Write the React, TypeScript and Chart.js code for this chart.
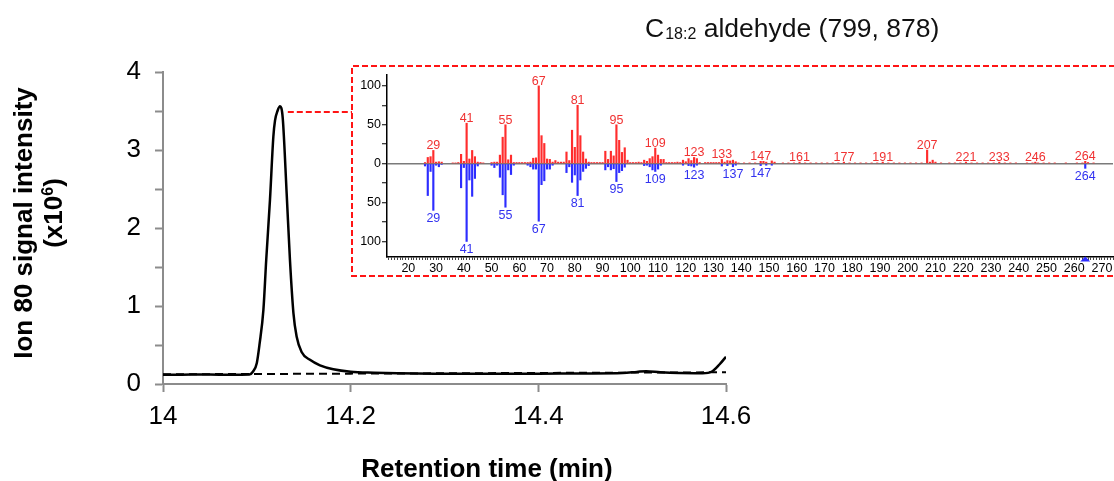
import React, { useEffect, useRef } from 'react';
import { Chart, registerables } from 'chart.js';

Chart.register(...registerables);

const FONT = '"Liberation Sans", Arial, Helvetica, sans-serif';
const W = 1114;
const H = 481;

// ---------- Chromatogram (ion 80) ----------
const RT_SOLID = [14.0, 14.02, 14.04, 14.06, 14.08, 14.092, 14.096, 14.1, 14.103, 14.107, 14.11, 14.114, 14.1176, 14.1194, 14.122, 14.1247, 14.1276, 14.1318, 14.1353, 14.139, 14.1424, 14.1477, 14.1566, 14.1673, 14.1815, 14.2, 14.225, 14.25, 14.3, 14.35, 14.4, 14.45, 14.49, 14.505, 14.515, 14.53, 14.55, 14.575, 14.585, 14.593, 14.6];
const INT_SOLID = [0.12, 0.12, 0.121, 0.12, 0.12, 0.122, 0.16, 0.27, 0.52, 0.95, 1.59, 2.36, 3.17, 3.38, 3.5, 3.56, 3.41, 2.44, 1.59, 0.91, 0.61, 0.41, 0.31, 0.24, 0.19, 0.158, 0.145, 0.137, 0.132, 0.13, 0.133, 0.135, 0.14, 0.155, 0.165, 0.15, 0.14, 0.138, 0.16, 0.25, 0.35];
const RT_BASELINE = [14.0, 14.1, 14.2, 14.3, 14.4, 14.5, 14.6];
const INT_BASELINE = [0.125, 0.128, 0.133, 0.137, 0.142, 0.146, 0.15];
const RT_TICKS = [14, 14.2, 14.4, 14.6];
const INT_TICKS = [0, 0.5, 1, 1.5, 2, 2.5, 3, 3.5, 4];
const CONNECTOR_RT = 14.133;
const CONNECTOR_LEVEL = 3.49;

// ---------- Mass spectrum inset: [m/z, relative abundance] ----------
const SAMPLE_SPECTRUM: [number, number][] = [
  [26, 1.5], [27, 8], [28, 9], [29, 17], [30, 2], [31, 2.5], [32, 2], [36, 1], [37, 1], [38, 1.5], [39, 12], [40, 3], [41, 52], [42, 6], [43, 17], [44, 9], [45, 2], [46, 1.5], [47, 1],
  [50, 1.5], [51, 2], [52, 2], [53, 11], [54, 34], [55, 50], [56, 5], [57, 11], [58, 1.5], [59, 1.5], [60, 1.5], [61, 1.5], [62, 1.5], [63, 1.5], [64, 2], [65, 7], [66, 7.5], [67, 100], [68, 36], [69, 26],
  [70, 6], [71, 5.5], [72, 2], [73, 4], [74, 2], [75, 2], [76, 2], [77, 15], [78, 4], [79, 43], [80, 21], [81, 75], [82, 36], [83, 15], [84, 6], [85, 2], [86, 1.5], [87, 1.5], [88, 1.5], [89, 1.5],
  [90, 1.5], [91, 16], [92, 5.5], [93, 16], [94, 10], [95, 50], [96, 30], [97, 14.5], [98, 20.5], [99, 4.5], [100, 1.5], [101, 1.5], [102, 1.5], [103, 2], [104, 1.5], [105, 4.5], [106, 3], [107, 6.5], [108, 9], [109, 20],
  [110, 11], [111, 5.5], [112, 5.5], [113, 1.5], [114, 1.5], [115, 1.5], [116, 1.5], [117, 2], [118, 1.5], [119, 4.5], [120, 2.5], [121, 6.5], [122, 4], [123, 8], [124, 6.5], [125, 1.5], [127, 1.5], [128, 1.5], [129, 1.5],
  [130, 1.5], [131, 1.5], [132, 1.5], [133, 5.5], [134, 2], [135, 4], [136, 3.5], [137, 4.5], [138, 2.5], [139, 1], [141, 1], [143, 1], [145, 1], [147, 3], [148, 3], [149, 2], [151, 3.5], [152, 2],
  [155, 1], [157, 1], [159, 1], [161, 2], [163, 1], [165, 1], [167, 1], [169, 1], [171, 1], [173, 1], [175, 1], [177, 2], [179, 1], [181, 1], [183, 1], [185, 1], [187, 1], [189, 1], [191, 2], [193, 1], [195, 1], [197, 1], [199, 1],
  [201, 1], [203, 1], [205, 1], [207, 17.5], [208, 2], [209, 4.5], [210, 2], [212, 1], [215, 1], [217, 1], [219, 1], [221, 2], [223, 1], [225, 1], [227, 1], [229, 1], [231, 1], [233, 2], [235, 1], [237, 1], [239, 1],
  [243, 1], [245, 1], [246, 2], [247, 1], [249, 1], [251, 1], [253, 1], [257, 1], [261, 1], [263, 1], [264, 3], [265, 1.5], [267, 1],
];
const LIBRARY_SPECTRUM: [number, number][] = [
  [26, 3], [27, 41], [28, 10], [29, 60], [30, 2], [31, 4], [32, 1], [39, 31], [40, 5], [41, 100], [42, 21], [43, 42], [44, 19], [45, 3],
  [50, 2], [51, 5], [52, 2], [53, 17.5], [54, 40], [55, 56], [56, 8], [57, 14], [58, 2], [63, 2], [64, 4], [65, 7], [66, 7], [67, 74], [68, 27], [69, 22],
  [70, 7], [71, 7], [72, 2], [77, 11.5], [78, 4], [79, 24], [80, 14.5], [81, 41], [82, 21], [83, 10], [84, 6], [85, 2.5],
  [91, 8], [92, 4], [93, 8], [94, 6.5], [95, 23], [96, 11.5], [97, 9], [98, 4.5], [105, 2.5], [106, 2], [107, 4], [108, 8], [109, 10],
  [110, 7], [111, 2], [119, 2], [121, 2.5], [122, 3], [123, 4.5], [124, 2], [133, 3], [135, 2.5], [137, 4], [138, 2], [147, 2.5], [149, 2], [151, 2], [264, 6],
];
const SAMPLE_LABELS = [29, 41, 55, 67, 81, 95, 109, 123, 133, 147, 161, 177, 191, 207, 221, 233, 246, 264];
const LIBRARY_LABELS = [29, 41, 55, 67, 81, 95, 109, 123, 137, 147, 264];
const MZ_TICK_LABELS = [20, 30, 40, 50, 60, 70, 80, 90, 100, 110, 120, 130, 140, 150, 160, 170, 180, 190, 200, 210, 220, 230, 240, 250, 260, 270];
const ABUND_TICKS = [-100, -75, -50, -25, 0, 25, 50, 75, 100];
const ABUND_LABELS = [-100, -50, 0, 50, 100];
const MARKER_MZ = 264;

const RED_BAR = 'rgb(255,45,45)';
const BLUE_BAR = 'rgb(45,45,255)';
const RED_TEXT = 'rgb(240,50,50)';
const BLUE_TEXT = 'rgb(50,50,240)';
const RED_BOX = 'rgb(255,20,20)';
const AXIS_GRAY = '#8c8c8c';

const INSET = { left: 351, top: 65, width: 763, height: 213 };

const mainDecor = {
  id: 'mainDecor',
  afterDraw(chart: any) {
    const ctx = chart.ctx as CanvasRenderingContext2D;
    const xs = chart.scales.x;
    const ys = chart.scales.y;
    ctx.save();
    // connector from peak to inset
    ctx.strokeStyle = RED_BOX;
    ctx.lineWidth = 2;
    ctx.setLineDash([6, 3]);
    const cy = Math.round(ys.getPixelForValue(CONNECTOR_LEVEL));
    ctx.beginPath();
    ctx.moveTo(xs.getPixelForValue(CONNECTOR_RT), cy);
    ctx.lineTo(INSET.left + 1, cy);
    ctx.stroke();
    ctx.setLineDash([]);

    // title
    ctx.fillStyle = '#111';
    ctx.textAlign = 'left';
    ctx.textBaseline = 'alphabetic';
    let x = 645;
    const base = 37;
    ctx.font = `26.5px ${FONT}`;
    ctx.fillText('C', x, base);
    x += ctx.measureText('C').width + 1;
    ctx.font = `16px ${FONT}`;
    ctx.fillText('18:2', x, base + 1.5);
    x += ctx.measureText('18:2').width;
    ctx.font = `26.5px ${FONT}`;
    ctx.fillText(' aldehyde (799, 878)', x, base);

    // y title
    ctx.fillStyle = '#000';
    ctx.save();
    ctx.translate(32, 223);
    ctx.rotate(-Math.PI / 2);
    ctx.font = `bold 26px ${FONT}`;
    ctx.textAlign = 'center';
    ctx.fillText('Ion 80 signal intensity', 0, 0);
    ctx.restore();

    ctx.save();
    ctx.translate(62, 213);
    ctx.rotate(-Math.PI / 2);
    ctx.textAlign = 'left';
    ctx.font = `bold 26px ${FONT}`;
    const a = '(x10';
    const b = ')';
    const wa = ctx.measureText(a).width;
    const wb = ctx.measureText(b).width;
    ctx.font = `bold 16px ${FONT}`;
    const ws = ctx.measureText('6').width;
    const x0 = -(wa + ws + wb) / 2;
    ctx.font = `bold 26px ${FONT}`;
    ctx.fillText(a, x0, 0);
    ctx.font = `bold 16px ${FONT}`;
    ctx.fillText('6', x0 + wa, -9);
    ctx.font = `bold 26px ${FONT}`;
    ctx.fillText(b, x0 + wa + ws, 0);
    ctx.restore();

    // x title
    ctx.font = `bold 26px ${FONT}`;
    ctx.textAlign = 'center';
    ctx.fillText('Retention time (min)', 487, 477);
    ctx.restore();
  },
};

const insetDecor = {
  id: 'insetDecor',
  afterDraw(chart: any) {
    const ctx = chart.ctx as CanvasRenderingContext2D;
    const xs = chart.scales.x;
    const ys = chart.scales.y;
    const area = chart.chartArea;
    ctx.save();
    // dashed frame
    ctx.strokeStyle = RED_BOX;
    ctx.lineWidth = 2;
    ctx.setLineDash([6, 3]);
    ctx.beginPath();
    ctx.moveTo(chart.width + 10, 1);
    ctx.lineTo(1, 1);
    ctx.lineTo(1, chart.height - 2);
    ctx.lineTo(chart.width + 10, chart.height - 2);
    ctx.stroke();
    ctx.setLineDash([]);

    // peak labels
    ctx.font = `12.5px ${FONT}`;
    ctx.textAlign = 'center';
    ctx.textBaseline = 'alphabetic';
    ctx.fillStyle = RED_TEXT;
    for (const m of SAMPLE_LABELS) {
      const p = SAMPLE_SPECTRUM.find((d) => d[0] === m);
      const v = p ? p[1] : 0;
      ctx.fillText(String(m), xs.getPixelForValue(m), ys.getPixelForValue(v) - 1);
    }
    ctx.textBaseline = 'top';
    ctx.fillStyle = BLUE_TEXT;
    for (const m of LIBRARY_LABELS) {
      const p = LIBRARY_SPECTRUM.find((d) => d[0] === m);
      const v = p ? p[1] : 0;
      ctx.fillText(String(m), xs.getPixelForValue(m), ys.getPixelForValue(-v) + 2);
    }

    // marker on the axis
    const mx = xs.getPixelForValue(MARKER_MZ);
    const by = area.bottom;
    ctx.fillStyle = BLUE_BAR;
    ctx.beginPath();
    ctx.moveTo(mx, by - 0.5);
    ctx.lineTo(mx + 5, by + 4.5);
    ctx.lineTo(mx - 5, by + 4.5);
    ctx.closePath();
    ctx.fill();
    ctx.restore();
  },
};

export default function App() {
  const mainRef = useRef<HTMLCanvasElement>(null);
  const insetRef = useRef<HTMLCanvasElement>(null);

  useEffect(() => {
    const main = new Chart(mainRef.current as HTMLCanvasElement, {
      type: 'line',
      data: {
        datasets: [
          {
            label: 'Ion 80',
            data: RT_SOLID.map((x, i) => ({ x, y: INT_SOLID[i] })),
            borderColor: '#000',
            borderWidth: 2.5,
            pointRadius: 0,
            cubicInterpolationMode: 'monotone',
            fill: false,
          },
          {
            label: 'Baseline',
            data: RT_BASELINE.map((x, i) => ({ x, y: INT_BASELINE[i] })),
            borderColor: '#000',
            borderWidth: 2,
            borderDash: [8, 5],
            pointRadius: 0,
            fill: false,
          },
        ],
      },
      options: {
        responsive: false,
        animation: false,
        devicePixelRatio: 1,
        layout: { padding: { left: 0, top: 72, right: 388, bottom: 0 } },
        plugins: { legend: { display: false }, tooltip: { enabled: false }, title: { display: false } },
        scales: {
          x: {
            type: 'linear',
            min: 14,
            max: 14.6,
            afterBuildTicks: (s: any) => { s.ticks = RT_TICKS.map((v) => ({ value: v })); },
            afterFit: (s: any) => { s.height = 97; },
            ticks: {
              font: { family: FONT, size: 26 },
              color: '#000',
              padding: 9,
              maxRotation: 0,
              autoSkip: false,
              callback: (v: any) => String(parseFloat(Number(v).toFixed(1))),
            },
            grid: { drawOnChartArea: false, drawTicks: true, tickLength: 8, tickWidth: 2, tickColor: AXIS_GRAY },
            border: { color: AXIS_GRAY, width: 2 },
          },
          y: {
            type: 'linear',
            min: 0,
            max: 4,
            afterBuildTicks: (s: any) => { s.ticks = INT_TICKS.map((v) => ({ value: v })); },
            afterFit: (s: any) => { s.width = 163; },
            ticks: {
              font: { family: FONT, size: 26 },
              color: '#000',
              padding: 14,
              autoSkip: false,
              callback: (v: any) => (Number.isInteger(Number(v)) ? String(v) : ''),
            },
            grid: { drawOnChartArea: false, drawTicks: true, tickLength: 8, tickWidth: 2, tickColor: AXIS_GRAY },
            border: { color: AXIS_GRAY, width: 2 },
          },
        },
      } as any,
      plugins: [mainDecor],
    });

    const mzTicks: { value: number }[] = [];
    for (let m = 13; m <= 274; m += 1) mzTicks.push({ value: m });

    const inset = new Chart(insetRef.current as HTMLCanvasElement, {
      type: 'bar',
      data: {
        datasets: [
          {
            label: 'Sample',
            data: SAMPLE_SPECTRUM.map(([m, a]) => ({ x: m, y: a })),
            backgroundColor: RED_BAR,
            stack: 'ms',
            barThickness: 1.5,
          },
          {
            label: 'Library',
            data: LIBRARY_SPECTRUM.map(([m, a]) => ({ x: m, y: -a })),
            backgroundColor: BLUE_BAR,
            stack: 'ms',
            barThickness: 1.5,
          },
        ],
      },
      options: {
        responsive: false,
        animation: false,
        devicePixelRatio: 1,
        layout: { padding: { left: 0, top: 10, right: 0, bottom: 0 } },
        plugins: { legend: { display: false }, tooltip: { enabled: false }, title: { display: false } },
        scales: {
          x: {
            type: 'linear',
            min: 12.3,
            max: 274,
            offset: false,
            afterBuildTicks: (s: any) => { s.ticks = mzTicks.slice(); },
            afterFit: (s: any) => { s.height = 21; },
            ticks: {
              font: { family: FONT, size: 12.5 },
              color: '#000',
              padding: 1,
              maxRotation: 0,
              autoSkip: false,
              callback: (v: any) => (MZ_TICK_LABELS.includes(Number(v)) ? String(v) : ''),
            },
            grid: { offset: false, drawOnChartArea: false, drawTicks: true, tickLength: 3, tickWidth: 1, tickColor: '#444' },
            border: { color: '#000', width: 1.5 },
          },
          y: {
            type: 'linear',
            min: -120,
            max: 114,
            afterBuildTicks: (s: any) => { s.ticks = ABUND_TICKS.map((v) => ({ value: v })); },
            afterFit: (s: any) => { s.width = 36; },
            ticks: {
              font: { family: FONT, size: 12.5 },
              color: '#000',
              padding: 1,
              autoSkip: false,
              callback: (v: any) => (ABUND_LABELS.includes(Number(v)) ? String(Math.abs(Number(v))) : ''),
            },
            grid: {
              drawOnChartArea: true,
              color: (c: any) => (c.tick && c.tick.value === 0 ? '#7a7a7a' : 'rgba(0,0,0,0)'),
              lineWidth: 1.5,
              drawTicks: true,
              tickLength: 5,
              tickWidth: 1,
              tickColor: '#000',
            },
            border: { color: '#000', width: 1.5 },
          },
        },
      } as any,
      plugins: [insetDecor],
    });

    return () => {
      main.destroy();
      inset.destroy();
    };
  }, []);

  return (
    <div style={{ position: 'fixed', left: 0, top: 0, width: W, height: H, background: '#fff', overflow: 'hidden' }}>
      <canvas ref={mainRef} width={W} height={H} style={{ position: 'absolute', left: 0, top: 0, width: W, height: H }} />
      <canvas
        ref={insetRef}
        width={INSET.width}
        height={INSET.height}
        style={{ position: 'absolute', left: INSET.left, top: INSET.top, width: INSET.width, height: INSET.height }}
      />
    </div>
  );
}
